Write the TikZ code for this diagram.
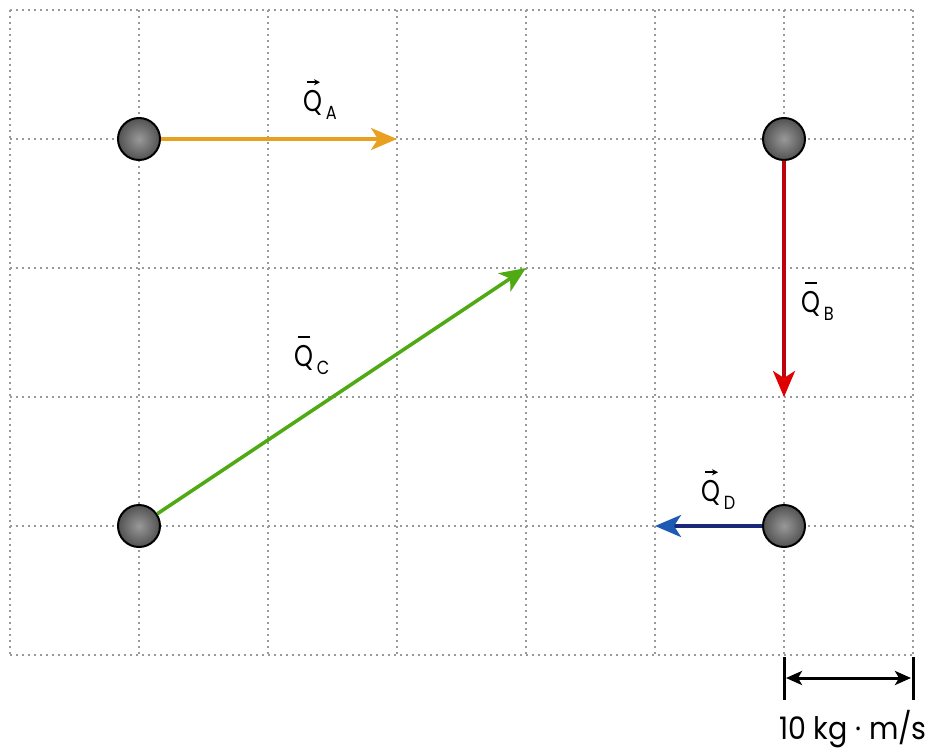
\documentclass[tikz,border=0pt]{standalone}
\usepackage{fontspec}
\setmainfont{Poppins}
\usetikzlibrary{arrows.meta}
\definecolor{cA}{RGB}{232,160,32}
\definecolor{cB}{RGB}{190,0,16}
\definecolor{cBh}{RGB}{225,0,0}
\definecolor{cC}{RGB}{80,170,20}
\definecolor{cD}{RGB}{25,40,120}
\definecolor{cDh}{RGB}{30,90,180}
\tikzset{
  grid/.style={gray!80, line width=1.8pt, dash pattern=on 1.8pt off 4.2pt},
  ball/.style={circle, draw=black, line width=2pt, minimum size=42pt, inner sep=0pt, inner color=black!40, outer color=black!68},
  vec/.style={line width=3.5pt, -{Stealth[length=26pt,width=22pt,inset=7pt]}},
  qtxt/.style={inner sep=0pt, font=\fontsize{30}{30}\selectfont},
  qsub/.style={inner sep=0pt, font=\fontsize{19}{19}\selectfont},
  acc/.style={line width=1.8pt, -{Stealth[length=6pt,width=6pt]}},
  bar/.style={line width=2.2pt},
}
\begin{document}
\begin{tikzpicture}[x=1pt,y=-1pt]
\useasboundingbox (0,0) rectangle (942,752);
\fill[white] (0,0) rectangle (942,752);
% grid
\foreach \i in {0,...,7} \draw[grid] ({10+129*\i},10) -- ({10+129*\i},655);
\foreach \j in {0,...,5} \draw[grid] (10,{10+129*\j}) -- (913,{10+129*\j});
% end points
\coordinate (ea) at (397,139);
\coordinate (eb) at (784,397);
\coordinate (ec) at (526,268);
\coordinate (ed) at (655,526);
% vectors
\node[ball] (ba) at (139,139) {};
\node[ball] (bb) at (784,139) {};
\node[ball] (bc) at (139,526) {};
\node[ball] (bd) at (784,526) {};
\draw[vec, cA] (ba) -- (ea);
\draw[vec, cB, -{Stealth[length=26pt,width=22pt,inset=7pt,color=cBh]}] (bb) -- (eb);
\draw[vec, cC] (bc) -- (ec);
\draw[vec, cD, -{Stealth[length=26pt,width=22pt,inset=7pt,color=cDh]}] (bd) -- (ed);
% labels
\node[qtxt] (qa) at (313,103) {\scalebox{0.8}[1]{Q}};
\node[qsub, anchor=west] (sa) at ([xshift=3pt,yshift=-10pt]qa.east) {\scalebox{0.85}[1]{A}};
\draw[acc] ([xshift=-6pt,yshift=8pt]qa.north) -- ([xshift=7pt,yshift=8pt]qa.north);

\node[qtxt] (qb) at (811,304) {\scalebox{0.8}[1]{Q}};
\node[qsub, anchor=west] (sb) at ([xshift=3pt,yshift=-10pt]qb.east) {\scalebox{0.85}[1]{B}};
\draw[bar] ([xshift=-6pt,yshift=8pt]qb.north) -- ([xshift=6pt,yshift=8pt]qb.north);

\node[qtxt] (qc) at (304,358) {\scalebox{0.8}[1]{Q}};
\node[qsub, anchor=west] (sc) at ([xshift=3pt,yshift=-10pt]qc.east) {\scalebox{0.85}[1]{C}};
\draw[bar] ([xshift=-6pt,yshift=8pt]qc.north) -- ([xshift=6pt,yshift=8pt]qc.north);

\node[qtxt] (qd) at (711,493) {\scalebox{0.8}[1]{Q}};
\node[qsub, anchor=west] (sd) at ([xshift=3pt,yshift=-10pt]qd.east) {\scalebox{0.85}[1]{D}};
\draw[acc] ([xshift=-6pt,yshift=8pt]qd.north) -- ([xshift=7pt,yshift=8pt]qd.north);
% scale bar
\coordinate (t1a) at (784,657);
\coordinate (t1b) at (784,700);
\coordinate (t2a) at (913,657);
\coordinate (t2b) at (913,700);
\draw[line width=3pt] (t1a) -- (t1b);
\draw[line width=3pt] (t2a) -- (t2b);
\coordinate (sl) at (786,678);
\coordinate (sr) at (911,678);
\draw[line width=3pt, {Stealth[length=16pt,width=14pt,inset=4pt]}-{Stealth[length=16pt,width=14pt,inset=4pt]}] (sl) -- (sr);
\node[inner sep=0pt, font=\fontsize{31}{31}\selectfont] (lbl) at (853,729) {\scalebox{0.92}[1]{10 kg · m/s}};
\end{tikzpicture}
\end{document}
